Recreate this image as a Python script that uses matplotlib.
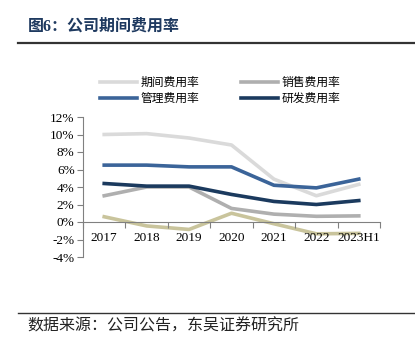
import matplotlib
matplotlib.use('Agg')
import matplotlib.pyplot as plt
from matplotlib.lines import Line2D

# 数字用衬线字体，中文回退到 Noto Sans CJK
plt.rcParams['font.family'] = ['Liberation Serif', 'Noto Sans CJK SC', 'DejaVu Sans']

# 数据
years = ['2017', '2018', '2019', '2020', '2021', '2022', '2023H1']
period_rate = [10.0, 10.1, 9.6, 8.8, 4.9, 3.0, 4.3]     # 期间费用率
sales_rate = [3.0, 4.0, 4.0, 1.55, 0.9, 0.65, 0.7]      # 销售费用率
admin_rate = [6.5, 6.5, 6.3, 6.3, 4.2, 3.9, 4.9]        # 管理费用率
rd_rate = [4.4, 4.1, 4.1, 3.15, 2.35, 2.0, 2.45]        # 研发费用率
fin_rate = [0.6, -0.45, -0.85, 1.0, -0.2, -1.35, -1.3]  # 财务费用率
y_ticks = [-4, -2, 0, 2, 4, 6, 8, 10, 12]

fig = plt.figure(figsize=(4.15, 3.49), dpi=100)

# 标题和分隔线
fig.text(28 / 415, 1 - 27 / 349, '图6：公司期间费用率', fontsize=11.5, fontweight='bold',
         color='#1F3A60', va='center', ha='left')
fig.add_artist(Line2D([18 / 415, 1], [1 - 43 / 349] * 2, color='#333333', lw=1.6))
fig.add_artist(Line2D([18 / 415, 1], [1 - 313 / 349] * 2, color='#333333', lw=1.0))
fig.text(27 / 415, 1 - 327 / 349, '数据来源：公司公告，东吴证券研究所', fontsize=11.5,
         color='#222222', va='center', ha='left')

ax = fig.add_axes([83 / 415, 1 - 257 / 349, 297 / 415, 140 / 349])
x = range(len(years))
lw = 2.6
l1, = ax.plot(x, period_rate, color='#DADADA', lw=lw, label='期间费用率')
l2, = ax.plot(x, sales_rate, color='#AFAFAF', lw=lw, label='销售费用率')
l3, = ax.plot(x, admin_rate, color='#3B6499', lw=lw, label='管理费用率')
l4, = ax.plot(x, rd_rate, color='#1B3A5E', lw=lw, label='研发费用率')
ax.plot(x, fin_rate, color='#C9C49C', lw=lw)

ax.set_xlim(-0.5, len(years) - 0.5)
ax.set_ylim(-4, 12)
ax.set_yticks(y_ticks)
ax.set_yticklabels(['%d%%' % v for v in y_ticks])

ax.set_xticks([i - 0.5 for i in range(len(years) + 1)])
ax.set_xticklabels([])
ax.set_xticks(list(x), minor=True)
ax.set_xticklabels(years, minor=True)
ax.tick_params(axis='x', which='major', direction='out', length=4, color='#808080')
ax.tick_params(axis='x', which='minor', length=0, pad=7, labelsize=9.5)
ax.tick_params(axis='y', direction='out', length=4, color='#808080', pad=2, labelsize=9.5)
ax.set_axisbelow(False)

ax.spines['bottom'].set_position(('data', 0))
ax.spines['bottom'].set_color('#808080')
ax.spines['left'].set_color('#808080')
ax.spines['top'].set_visible(False)
ax.spines['right'].set_visible(False)

# 图例按行排列：期间、销售 / 管理、研发
fig.legend([l1, l3, l2, l4], ['期间费用率', '管理费用率', '销售费用率', '研发费用率'],
           loc='upper left', bbox_to_anchor=(100 / 415, 1 - 77 / 349), ncol=2, frameon=False,
           fontsize=8.5, handlelength=3.1, columnspacing=3.6, handletextpad=0.3,
           labelspacing=0.35, borderaxespad=0, borderpad=0)

fig.savefig('out.png', dpi=100)
